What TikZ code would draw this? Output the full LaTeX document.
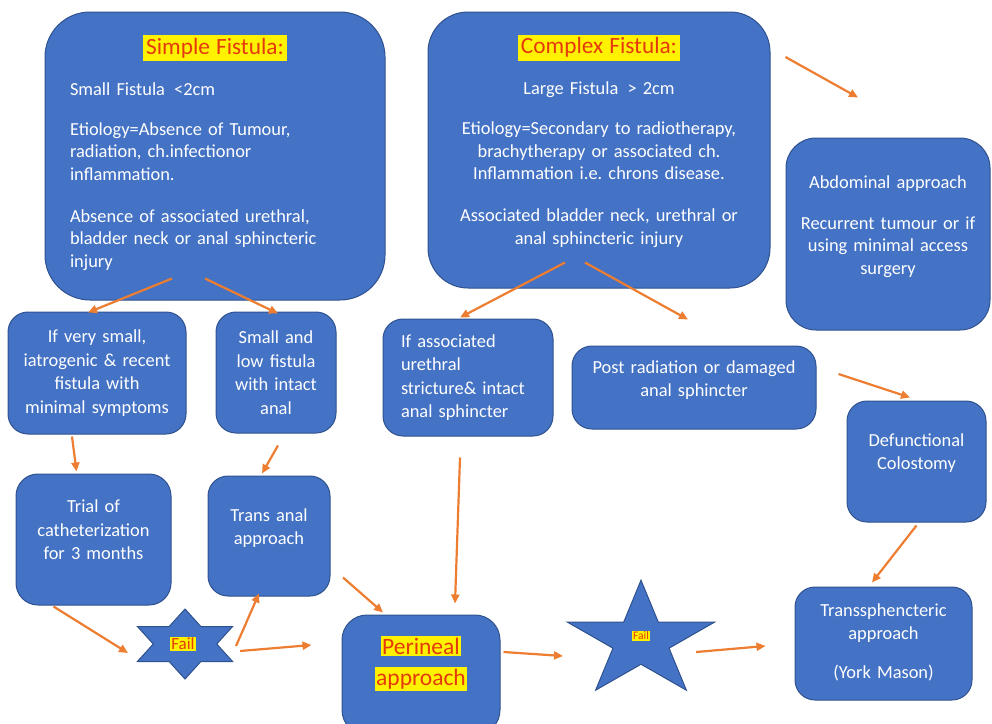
\documentclass[tikz,border=0pt]{standalone}
\usepackage{fontspec}
\setmainfont{Carlito}
\usepackage{tikz}
\usetikzlibrary{shapes.geometric,arrows.meta}
\frenchspacing

\definecolor{boxblue}{RGB}{68,114,196}
\definecolor{boxedge}{RGB}{47,82,143}
\definecolor{arrowor}{RGB}{237,125,49}
\definecolor{titlered}{RGB}{228,58,12}

% yellow marker behind a word, and extra room under a node text
\newcommand{\hilite}[2][1.5pt]{{\setlength{\fboxsep}{#1}\colorbox{yellow}{\textcolor{titlered}{#2}}}}
\newcommand{\padb}[1]{\par\vspace{#1}\hrule height 0pt}

\begin{document}
\begin{tikzpicture}[x=1pt,y=-1pt,
    box/.style={draw=boxedge, line width=1pt, fill=boxblue, text=white,
        rounded corners=#1, inner sep=0pt, align=center,
        font=\fontsize{18.4}{23.5}\selectfont},
    box/.default=20pt,
    bigbox/.style={box=#1, font=\fontsize{18.4}{22.5}\selectfont},
    failstar/.style={star, draw=boxedge, line width=1pt, fill=boxblue,
        inner sep=0pt, transform shape},
    arr/.style={draw=arrowor, line width=2.2pt, -{Triangle[length=9pt,width=8pt]}}]

    \clip (0,0) rectangle (992,723);

    % --- Simple fistula (top left) ---
    \node[bigbox=45pt, align=left, minimum width=340pt, minimum height=288pt,
          text width=290pt] (simple) at (215,156)
    {\makebox[\linewidth]{\fontsize{23.3}{26}\selectfont\hilite[3pt]{Simple Fistula:}}\\[18.5pt]
     Small Fistula \,<2cm\\[17.5pt]
     Etiology=Absence of Tumour,\\ radiation, ch.infectionor\\ inflammation.\\[19.5pt]
     Absence of associated urethral,\\ bladder neck or anal sphincteric\\ injury\padb{7pt}};

    % --- Complex fistula (top middle) ---
    \node[bigbox=40pt, minimum width=342pt, minimum height=276pt,
          text width=320pt] (complex) at (599,150)
    {{\fontsize{23.3}{26}\selectfont\hilite[3pt]{Complex Fistula:}}\\[18.5pt]
     Large Fistula \,> 2cm\\[17.5pt]
     Etiology=Secondary to radiotherapy,\\ brachytherapy or associated ch.\\
     Inflammation i.e. chrons disease.\\[19.5pt]
     Associated bladder neck, urethral or\\ anal sphincteric injury\padb{18pt}};

    % --- Abdominal approach (right) ---
    \node[bigbox=30pt, minimum width=204pt, minimum height=192pt,
          text width=200pt] (abdom) at (888,234)
    {Abdominal approach\\[18.5pt]
     Recurrent tumour or if\\ using minimal access\\ surgery\padb{15pt}};

    % --- Second row ---
    \node[box, minimum width=178pt, minimum height=122pt, text width=170pt]
        (small) at (97,373)
        {If very small,\\ iatrogenic \& recent\\ fistula with\\ minimal symptoms};
    \node[box, minimum width=120pt, minimum height=121pt, text width=110pt]
        (lowfis) at (276,372.5)
        {Small and\\ low fistula\\ with intact\\ anal};
    \node[box, align=left, minimum width=170pt, minimum height=117pt, text width=134pt]
        (assoc) at (468,377.5)
        {If associated\\ urethral\\ stricture\& intact\\ anal sphincter};
    \node[box, minimum width=244pt, minimum height=83pt, text width=230pt]
        (postrad) at (694,387.5)
        {Post radiation or damaged\\ anal sphincter\padb{15pt}};
    \node[box, minimum width=139pt, minimum height=121pt, text width=125pt]
        (defunct) at (916.5,461.5)
        {Defunctional\\ Colostomy\padb{17pt}};

    % --- Third row ---
    \node[box=22pt, minimum width=155pt, minimum height=131pt, text width=140pt]
        (trial) at (93.5,539.5)
        {Trial of\\ catheterization\\ for 3 months\padb{19pt}};
    \node[box, minimum width=122pt, minimum height=120pt, text width=110pt]
        (transanal) at (269,536)
        {Trans anal\\ approach\padb{16pt}};

    % --- Fail stars ---
    \begin{scope}[shift={(185,644)}, xscale=1.57]
        \node[failstar, star points=6, star point ratio=1.732, minimum size=70pt]
            (fail1) at (0,0) {};
    \end{scope}
    \node[inner sep=0pt, font=\fontsize{17}{19}\selectfont] (fail1txt) at (183,644) {\hilite{Fail}};

    \begin{scope}[shift={(641,641)}, xscale=1.27]
        \node[failstar, star points=5, star point ratio=2.618, minimum size=121.6pt]
            (fail2) at (0,0) {};
    \end{scope}
    \node[inner sep=0pt, font=\fontsize{11.5}{13}\selectfont] (fail2txt) at (641,636) {\hilite[1pt]{Fail}};

    % --- Bottom row ---
    \node[box=25pt, minimum width=158pt, minimum height=120pt, text width=150pt]
        (perineal) at (421,675)
        {\fontsize{23.5}{31}\selectfont\hilite{Perineal}\\ \hilite{approach}\padb{23pt}};
    \node[box, minimum width=177pt, minimum height=113pt, text width=160pt]
        (transsph) at (883.5,643.5)
        {Transsphencteric\\ approach\\[15pt] (York Mason)\padb{3pt}};

    % --- Arrows ---
    \draw[arr] ([shift={(-43,-22)}]simple.south) -- ([shift={(-9,1)}]small.north);
    \draw[arr] ([shift={(-10,-22)}]simple.south) -- ([shift={(2,2)}]lowfis.north);
    \draw[arr] ([shift={(-25,2)}]small.south) -- ([shift={(-17,-2)}]trial.north);
    \draw[arr] ([shift={(2,12)}]lowfis.south) -- ([shift={(-7,-2)}]transanal.north);
    \draw[arr] ([shift={(-40,1)}]trial.south) -- ([shift={(-57,9)}]fail1.center);
    \draw[arr] ([shift={(51,2)}]fail1.center) -- ([shift={(-10,-3)}]transanal.south);
    \draw[arr] ([shift={(55,7)}]fail1.center) -- ([shift={(-30,-30)}]perineal.west);
    \draw[arr] ([shift={(74,-19)}]transanal.south) -- ([shift={(-38,-2)}]perineal.north);
    \draw[arr] ([shift={(-8,21)}]assoc.south) -- ([shift={(34,-11)}]perineal.north);
    \draw[arr] ([shift={(3,-23)}]perineal.east) -- ([shift={(-78,15)}]fail2.center);
    \draw[arr] ([shift={(55,11)}]fail2.center) -- ([shift={(-29,2.5)}]transsph.west);
    \draw[arr] ([shift={(-34,-26)}]complex.south) -- ([shift={(-8,-1)}]assoc.north);
    \draw[arr] ([shift={(-14,-26)}]complex.south) -- ([shift={(-6,-26)}]postrad.north);
    \draw[arr] ([shift={(15,-93)}]complex.east) -- ([shift={(-30,-40)}]abdom.north);
    \draw[arr] ([shift={(22,-13.5)}]postrad.east) -- ([shift={(-6.5,-3)}]defunct.north);
    \draw[arr] ([shift={(0,3)}]defunct.south) -- ([shift={(-11.5,-4)}]transsph.north);

\end{tikzpicture}
\end{document}
